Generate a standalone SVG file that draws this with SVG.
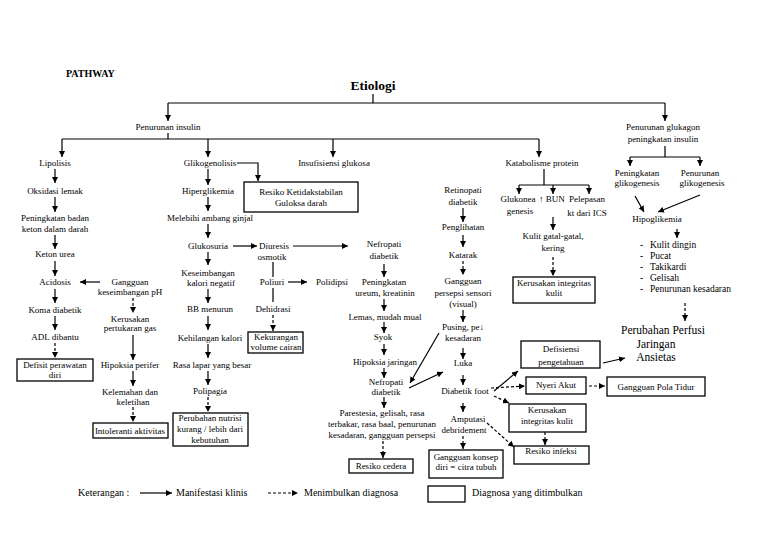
<svg xmlns="http://www.w3.org/2000/svg" width="768" height="543" viewBox="0 0 768 543">
<defs>
<marker id="ah" markerUnits="userSpaceOnUse" markerWidth="7" markerHeight="6" refX="6" refY="3" orient="auto">
<path d="M0,0 L6,3 L0,6 z" fill="#000"/>
</marker>
<style>
text{font-family:"Liberation Serif","Times New Roman",serif;font-size:9px;fill:#000;text-anchor:middle}
.s{text-anchor:start}
.b{font-weight:bold}
.big{font-size:11.5px}
.li{font-size:9.5px;text-anchor:start}
.lg{font-size:10px;text-anchor:start}
.ln{stroke:#000;stroke-width:1.2;fill:none}
.ar{marker-end:url(#ah)}
.da{stroke-dasharray:3 2}
.box{fill:#fff;stroke:#000;stroke-width:1.3}
</style>
</defs>
<rect width="768" height="543" fill="#fff"/>
<g id="connectors">
<path class="ln" d="M373,94 V103 M168,103 H665 M168,133 V139 M62,139 H539 M544,169 V185 M519,185 H589 M665,146 V157 M630,157 H700 M273,262 V277 M273,288 V302"/>
<path class="ln ar" d="M168,103 V121"/>
<path class="ln ar" d="M665,103 V121"/>
<path class="ln ar" d="M62,139 V157"/>
<path class="ln ar" d="M208,139 V157"/>
<path class="ln ar" d="M333,139 V157"/>
<path class="ln ar" d="M539,139 V157"/>
<path class="ln ar" d="M55,169 V183"/>
<path class="ln ar" d="M55,197 V212"/>
<path class="ln ar" d="M55,235 V249"/>
<path class="ln ar" d="M55,261 V276"/>
<path class="ln ar" d="M55,289 V303"/>
<path class="ln ar" d="M55,316 V330"/>
<path class="ln ar da" d="M55,343 V358"/>
<path class="ln ar" d="M100,282 H80"/>
<path class="ln ar da" d="M133,298 V313"/>
<path class="ln ar" d="M133,335 V360"/>
<path class="ln ar" d="M133,371 V386"/>
<path class="ln ar da" d="M133,407 V422"/>
<path class="ln ar" d="M208,169 V185"/>
<path class="ln ar" d="M208,197 V211"/>
<path class="ln ar" d="M208,224 V238"/>
<path class="ln ar" d="M208,252 V265"/>
<path class="ln ar" d="M208,289 V303"/>
<path class="ln ar" d="M208,316 V330"/>
<path class="ln ar" d="M208,344 V358"/>
<path class="ln ar" d="M208,371 V385"/>
<path class="ln ar da" d="M208,397 V412"/>
<path class="ln ar" d="M237,163 H258 V181"/>
<path class="ln ar" d="M233,246 H257"/>
<path class="ln ar" d="M293,246 H348"/>
<path class="ln ar" d="M288,282 H307"/>
<path class="ln ar da" d="M273,315 V331"/>
<path class="ln ar" d="M384,264 V277"/>
<path class="ln ar" d="M384,299 V311"/>
<path class="ln ar" d="M384,322 V333"/>
<path class="ln ar" d="M384,344 V355"/>
<path class="ln ar" d="M384,368 V378"/>
<path class="ln ar" d="M384,397 V408"/>
<path class="ln ar da" d="M383,441 V458"/>
<path class="ln ar" d="M463,208 V222"/>
<path class="ln ar" d="M463,235 V247"/>
<path class="ln ar da" d="M463,261 V275"/>
<path class="ln ar" d="M463,310 V322"/>
<path class="ln ar" d="M463,348 V359"/>
<path class="ln ar" d="M463,375 V385"/>
<path class="ln ar" d="M463,403 V412"/>
<path class="ln ar da" d="M463,436 V449"/>
<path class="ln ar" d="M439,333 L410,383"/>
<path class="ln ar" d="M409,388 L443,372"/>
<path class="ln ar" d="M494,391 L518,371"/>
<path class="ln ar" d="M603,363 L625,358"/>
<path class="ln ar da" d="M491,388 L525,386"/>
<path class="ln ar da" d="M589,386 H605"/>
<path class="ln ar da" d="M494,396 L509,403"/>
<path class="ln ar da" d="M545,432 V445"/>
<path class="ln ar da" d="M487,423 L514,447"/>
<path class="ln ar" d="M519,185 V194"/>
<path class="ln ar" d="M553,185 V194"/>
<path class="ln ar" d="M589,185 V194"/>
<path class="ln ar" d="M553,217 V230"/>
<path class="ln ar da" d="M553,257 V276"/>
<path class="ln ar" d="M630,157 V166"/>
<path class="ln ar" d="M700,157 V166"/>
<path class="ln ar" d="M635,196 L644,212"/>
<path class="ln ar" d="M700,195 L658,212"/>
<path class="ln ar" d="M677,229 V238"/>
<path class="ln ar da" d="M685,303 V321"/>
</g>
<g id="n-pathway"><text class="s b" x="66" y="77" style="font-size:10px">PATHWAY</text></g>
<g id="n-etiologi"><text class="b" x="373" y="90" style="font-size:13.5px">Etiologi</text></g>
<g id="n-penurunan-insulin"><text x="168" y="130">Penurunan insulin</text></g>
<g id="n-penurunan-glukagon"><text x="663" y="130">Penurunan glukagon</text><text x="663" y="142">peningkatan insulin</text></g>
<g id="n-lipolisis"><text x="55" y="166">Lipolisis</text></g>
<g id="n-glikogenolisis"><text x="210" y="166">Glikogenolisis</text></g>
<g id="n-insufisiensi"><text x="334" y="166">Insufisiensi glukosa</text></g>
<g id="n-katabolisme"><text x="542" y="166">Katabolisme protein</text></g>
<g id="n-oksidasi"><text x="55" y="194">Oksidasi lemak</text></g>
<g id="n-keton-darah"><text x="55" y="221">Peningkatan badan</text><text x="55" y="232">keton dalam darah</text></g>
<g id="n-keton-urea"><text x="55" y="257">Keton urea</text></g>
<g id="n-acidosis"><text x="55" y="285">Acidosis</text></g>
<g id="n-koma"><text x="55" y="313">Koma diabetik</text></g>
<g id="n-adl"><text x="55" y="340">ADL dibantu</text></g>
<g id="n-defisit"><rect class="box" x="17" y="359" width="76" height="22"/><text x="55" y="368">Defisit perawatan</text><text x="55" y="378">diri</text></g>
<g id="n-gangguan-ph"><text x="130" y="285">Gangguan</text><text x="130" y="295">keseimbangan pH</text></g>
<g id="n-kerusakan-gas"><text x="130" y="322">Kerusakan</text><text x="130" y="331">pertukaran gas</text></g>
<g id="n-hipoksia-perifer"><text x="130" y="368">Hipoksia perifer</text></g>
<g id="n-kelemahan"><text x="130" y="395">Kelemahan dan</text><text x="133" y="405">keletihan</text></g>
<g id="n-intoleransi"><rect class="box" x="93" y="423" width="75" height="15"/><text x="130" y="434">Intoleranti aktivitas</text></g>
<g id="n-resiko-glukosa"><rect class="box" x="244" y="182" width="114" height="30"/><text x="301" y="195">Resiko Ketidakstabilan</text><text x="301" y="206">Guloksa darah</text></g>
<g id="n-hiperglikemia"><text x="208" y="194">Hiperglikemia</text></g>
<g id="n-melebihi"><text x="210" y="221">Melebihi ambang ginjal</text></g>
<g id="n-glukosuria"><text x="208" y="249">Glukosuria</text></g>
<g id="n-diuresis"><text x="274" y="249">Diuresis</text><text x="272" y="260">osmotik</text></g>
<g id="n-poliuri"><text x="272" y="285">Poliuri</text></g>
<g id="n-polidipsi"><text x="332" y="285">Polidipsi</text></g>
<g id="n-dehidrasi"><text x="273" y="312">Dehidrasi</text></g>
<g id="n-kekurangan"><rect class="box" x="248" y="332" width="55" height="21"/><text x="276" y="340">Kekurangan</text><text x="276" y="350">volume cairan</text></g>
<g id="n-keseimbangan"><text x="208" y="276">Keseimbangan</text><text x="211" y="286">kalori negatif</text></g>
<g id="n-bb"><text x="210" y="312">BB menurun</text></g>
<g id="n-kehilangan"><text x="210" y="341">Kehilangan kalori</text></g>
<g id="n-rasa-lapar"><text x="212" y="368">Rasa lapar yang besar</text></g>
<g id="n-polipagia"><text x="210" y="394">Polipagia</text></g>
<g id="n-nutrisi"><rect class="box" x="173" y="413" width="75" height="33"/><text x="210" y="421">Perubahan nutrisi</text><text x="210" y="432">kurang / lebih dari</text><text x="210" y="443">kebutuhan</text></g>
<g id="n-nefropati1"><text x="384" y="247">Nefropati</text><text x="384" y="259">diabetik</text></g>
<g id="n-ureum"><text x="384" y="285">Peningkatan</text><text x="385" y="296">ureum, kreatinin</text></g>
<g id="n-lemas"><text x="385" y="320">Lemas, mudah mual</text></g>
<g id="n-syok"><text x="383" y="340">Syok</text></g>
<g id="n-hipoksia-jaringan"><text x="385" y="365">Hipoksia jaringan</text></g>
<g id="n-nefropati2"><text x="386" y="385">Nefropati</text><text x="386" y="395">diabetik</text></g>
<g id="n-parestesia"><text x="382" y="416">Parestesia, gelisah, rasa</text><text x="382" y="427">terbakar, rasa baal, penurunan</text><text x="382" y="438">kesadaran, gangguan persepsi</text></g>
<g id="n-resiko-cedera"><rect class="box" x="349" y="459" width="64" height="14"/><text x="381" y="469">Resiko cedera</text></g>
<g id="n-retinopati"><text x="463" y="193">Retinopati</text><text x="463" y="205">diabetik</text></g>
<g id="n-penglihatan"><text x="463" y="230">Penglihatan</text></g>
<g id="n-katarak"><text x="463" y="258">Katarak</text></g>
<g id="n-persepsi"><text x="463" y="284">Gangguan</text><text x="463" y="296">persepsi sensori</text><text x="463" y="307">(visual)</text></g>
<g id="n-pusing"><text x="463" y="330">Pusing, pe↓</text><text x="463" y="341">kesadaran</text></g>
<g id="n-luka"><text x="463" y="366">Luka</text></g>
<g id="n-diabetik-foot"><text x="465" y="394">Diabetik foot</text></g>
<g id="n-amputasi"><text x="468" y="422">Amputasi</text><text x="464" y="433">debridement</text></g>
<g id="n-konsep-diri"><rect class="box" x="429" y="450" width="74" height="28"/><text x="466" y="460">Gangguan konsep</text><text x="466" y="470">diri = citra tubuh</text></g>
<g id="n-defisiensi"><rect class="box" x="521" y="341" width="79" height="27"/><text x="561" y="352">Defisiensi</text><text x="561" y="365">pengetahuan</text></g>
<g id="n-nyeri"><rect class="box" x="526" y="377" width="60" height="17"/><text x="556" y="388">Nyeri Akut</text></g>
<g id="n-pola-tidur"><rect class="box" x="607" y="377" width="98" height="19"/><text x="656" y="390">Gangguan Pola Tidur</text></g>
<g id="n-kerusakan-kulit2"><rect class="box" x="509" y="404" width="77" height="28"/><text x="547" y="413">Kerusakan</text><text x="547" y="424">integritas kulit</text></g>
<g id="n-resiko-infeksi"><rect class="box" x="514" y="446" width="75" height="18"/><text x="551" y="454">Resiko infeksi</text></g>
<g id="n-glukoneogenesis"><text x="518" y="202">Glukonea</text><text x="520" y="214">genesis</text></g>
<g id="n-bun"><text x="552" y="202">↑ BUN</text></g>
<g id="n-pelepasan"><text x="587" y="202">Pelepasan</text><text x="587" y="216">kt dari ICS</text></g>
<g id="n-kulit-gatal"><text x="553" y="239">Kulit gatal-gatal,</text><text x="553" y="251">kering</text></g>
<g id="n-kerusakan-kulit1"><rect class="box" x="513" y="277" width="82" height="26"/><text x="554" y="286">Kerusakan integritas</text><text x="554" y="296">kulit</text></g>
<g id="n-peningkatan-glikogenesis"><text x="637" y="176">Peningkatan</text><text x="637" y="186">glikogenesis</text></g>
<g id="n-penurunan-glikogenesis"><text x="700" y="176">Penurunan</text><text x="702" y="186">glikogenesis</text></g>
<g id="n-hipoglikemia"><text x="657" y="222">Hipoglikemia</text></g>
<g id="n-gejala">
<text class="li" x="640" y="248">-</text><text class="li" x="650" y="248">Kulit dingin</text>
<text class="li" x="640" y="259">-</text><text class="li" x="650" y="259">Pucat</text>
<text class="li" x="640" y="270">-</text><text class="li" x="650" y="270">Takikardi</text>
<text class="li" x="640" y="281">-</text><text class="li" x="650" y="281">Gelisah</text>
<text class="li" x="640" y="292">-</text><text class="li" x="650" y="292">Penurunan kesadaran</text>
</g>
<g id="n-perfusi"><text class="big" x="663" y="334">Perubahan Perfusi</text><text class="big" x="656" y="347.5">Jaringan</text><text class="big" x="656" y="361">Ansietas</text></g>
<g id="legend">
<text class="lg" x="78" y="496">Keterangan :</text>
<path class="ln ar" d="M140,493 H172"/>
<text class="lg" x="176" y="496">Manifestasi klinis</text>
<path class="ln ar da" d="M268,493 H298"/>
<text class="lg" x="304" y="496">Menimbulkan diagnosa</text>
<rect class="box" x="428" y="486" width="37" height="16"/>
<text class="lg" x="472" y="496">Diagnosa yang ditimbulkan</text>
</g>
</svg>
